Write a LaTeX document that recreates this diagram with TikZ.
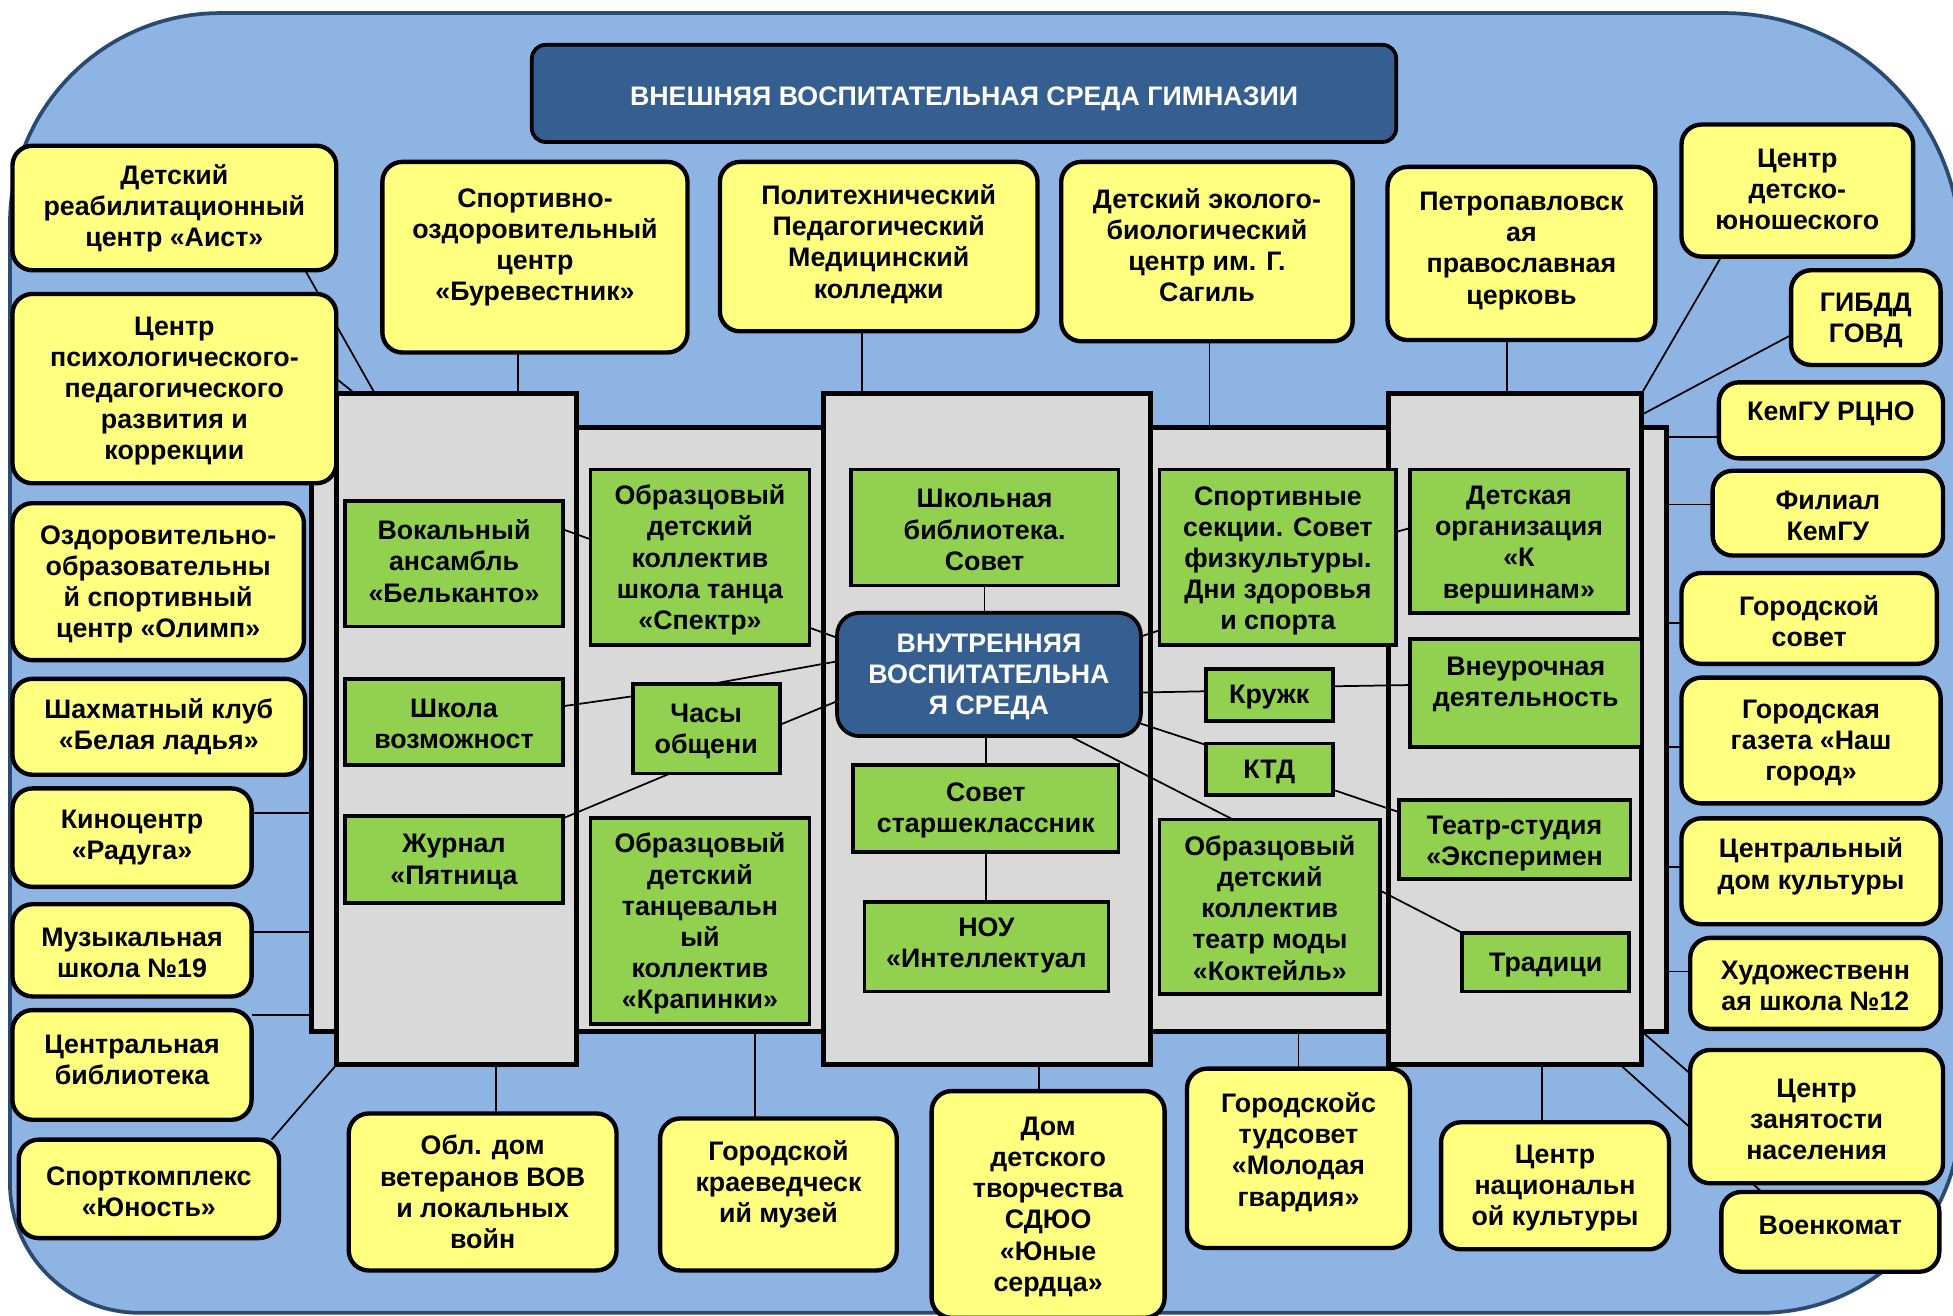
\documentclass[tikz,border=0pt]{standalone}
\usepackage{fontspec}
\setmainfont{Liberation Sans}
\usetikzlibrary{fit}
\definecolor{bgblue}{HTML}{8DB4E2}
\definecolor{bgline}{HTML}{2B4A72}
\definecolor{navy}{HTML}{365F91}
\definecolor{lemon}{HTML}{FFFF80}
\definecolor{leaf}{HTML}{92D050}
\definecolor{panelgray}{HTML}{D9D9D9}
\pgfdeclarelayer{bg}
\pgfdeclarelayer{links}
\pgfsetlayers{bg,links,main}
\begin{document}
\begin{tikzpicture}[x=1pt, y=-1pt,
    box/.style={draw=black, inner sep=0pt, outer sep=0pt},
    txt/.style={align=center, inner sep=0pt, yshift=-2pt, font=\bfseries\fontsize{21.5}{25}\selectfont},
    txtw/.style={txt, text=white},
    yel/.style={box, fill=lemon, line width=3.5pt, rounded corners=16pt},
    grn/.style={box, fill=leaf, line width=3pt},
    head/.style={box, fill=navy, line width=3pt, rounded corners=11pt},
    panel/.style={draw=black, fill=panelgray, line width=4pt, inner sep=0pt, outer sep=0pt},
    ln/.style={draw=black, line width=1.4pt}]
    \useasboundingbox (0,0) rectangle (1568,1056);
    \clip (0,0) rectangle (1568,1056);
    \begin{pgfonlayer}{bg}
    \draw[bgline, fill=bgblue, line width=3pt] (8,179.5) arc[start angle=180, end angle=270, radius=169]
        -- (1384,10.5) arc[start angle=270, end angle=360, radius=190]
        -- (1574,894) arc[start angle=0, end angle=90, radius=160]
        -- (112,1054) arc[start angle=90, end angle=180, radius=104] -- cycle;
    \node[panel, fit={(250,343) (1338,828)}] (back) {};
    \node[panel, fit={(270,316) (463,855)}] (colA) {};
    \node[panel, fit={(661,316) (924,855)}] (colC) {};
    \node[panel, fit={(1115,316) (1318,855)}] (colE) {};
    \end{pgfonlayer}

    \node[head, fit={(427,36) (1121,114)}, label={[txtw, yshift=-2pt]center:{ВНЕШНЯЯ ВОСПИТАТЕЛЬНАЯ СРЕДА ГИМНАЗИИ}}] (outerenv) {};

    \node[yel, fit={(10,117) (270,217)}, label={[txt, yshift=2pt]center:{Детский\\реабилитационный\\центр «Аист»}}] (aist) {};
    \node[yel, fit={(10,236) (270,388)}, label={[txt]center:{Центр\\психологического-\\педагогического\\развития и\\коррекции}}] (psych) {};
    \node[yel, fit={(10,404) (244,530)}, label={[txt]center:{Оздоровительно-\\образовательны\\й спортивный\\центр «Олимп»}}] (olimp) {};
    \node[yel, fit={(10,545) (245,622)}, label={[txt, yshift=2pt]center:{Шахматный клуб\\«Белая ладья»}}] (chess) {};
    \node[yel, fit={(10,633) (202,712)}, label={[txt, yshift=2pt]center:{Киноцентр\\«Радуга»}}] (kino) {};
    \node[yel, fit={(10,726) (202,800)}, label={[txt]center:{Музыкальная\\школа №19}}] (music) {};
    \node[yel, fit={(10,811) (202,899)}, label={[txt, yshift=6pt]center:{Центральная\\библиотека}}] (citylib) {};
    \node[yel, fit={(15,915) (224,994)}, label={[txt]center:{Спорткомплекс\\«Юность»}}] (sport) {};
    \node[yel, fit={(307,130) (552,283)}, label={[txt, yshift=10pt]center:{Спортивно-\\оздоровительный\\центр\\«Буревестник»}}] (burev) {};
    \node[yel, fit={(578,130) (833,266)}, label={[txt, yshift=4pt]center:{Политехнический\\Педагогический\\Медицинский\\колледжи}}] (college) {};
    \node[yel, fit={(852,130) (1086,274)}, label={[txt, yshift=7pt]center:{Детский эколого-\\биологический\\центр им. Г.\\Сагиль}}] (eco) {};
    \node[yel, fit={(1114,134) (1329,273)}, label={[txt, yshift=4pt]center:{Петропавловск\\ая\\православная\\церковь}}] (church) {};
    \node[yel, fit={(1350,100) (1536,206)}, label={[txt, yshift=3pt]center:{Центр\\детско-\\юношеского}}] (youth) {};
    \node[yel, fit={(1438,217) (1558,293)}, label={[txt]center:{ГИБДД\\ГОВД}}] (gibdd) {};
    \node[yel, fit={(1380,307) (1560,368)}, label={[txt, yshift=7pt]center:{КемГУ РЦНО}}] (rcno) {};
    \node[yel, fit={(1375,378) (1560,446)}, label={[txt]center:{Филиал\\КемГУ}}] (kemgu) {};
    \node[yel, fit={(1350,460) (1555,533)}, label={[txt]center:{Городской\\совет}}] (council) {};
    \node[yel, fit={(1350,544) (1558,645)}, label={[txt]center:{Городская\\газета «Наш\\город»}}] (paper) {};
    \node[yel, fit={(1350,657) (1558,742)}, label={[txt, yshift=6pt]center:{Центральный\\дом культуры}}] (culture) {};
    \node[yel, fit={(1357,753) (1558,826)}, label={[txt]center:{Художественн\\ая школа №12}}] (art) {};
    \node[yel, fit={(1357,843) (1560,950)}, label={[txt]center:{Центр\\занятости\\населения}}] (jobs) {};
    \node[yel, fit={(1382,957) (1557,1021)}, label={[txt, yshift=7pt]center:{Военкомат}}] (army) {};
    \node[yel, fit={(280,894) (495,1020)}, label={[txt, yshift=2pt]center:{Обл. дом\\ветеранов ВОВ\\и локальных\\войн}}] (veter) {};
    \node[yel, fit={(530,898) (720,1020)}, label={[txt, yshift=10pt]center:{Городской\\краеведческ\\ий музей}}] (museum) {};
    \node[yel, fit={(748,876) (935,1058)}, label={[txt]center:{Дом\\детского\\творчества\\СДЮО\\«Юные\\сердца»}}] (ddt) {};
    \node[yel, fit={(953,858) (1132,1002)}, label={[txt, yshift=7pt]center:{Городскойс\\тудсовет\\«Молодая\\гвардия»}}] (stud) {};
    \node[yel, fit={(1157,901) (1340,1003)}, label={[txt]center:{Центр\\национальн\\ой культуры}}] (nation) {};

    \node[grn, fit={(277,402) (452,503)}, label={[txt, yshift=4pt]center:{Вокальный\\ансамбль\\«Бельканто»}}] (belcanto) {};
    \node[grn, fit={(277,545) (452,614)}, label={[txt]center:{Школа\\возможност}}] (chances) {};
    \node[grn, fit={(277,655) (452,725)}, label={[txt]center:{Журнал\\«Пятница}}] (journal) {};
    \node[grn, fit={(474,377) (650,518)}, label={[txt]center:{Образцовый\\детский\\коллектив\\школа танца\\«Спектр»}}] (spectr) {};
    \node[grn, fit={(508,549) (626,621)}, label={[txt]center:{Часы\\общени}}] (talks) {};
    \node[grn, fit={(474,657) (650,822)}, label={[txt]center:{Образцовый\\детский\\танцевальн\\ый\\коллектив\\«Крапинки»}}] (krap) {};
    \node[grn, fit={(683,377) (898,470)}, label={[txt]center:{Школьная\\библиотека.\\Совет}}] (schoollib) {};
    \node[head, rounded corners=18pt, fit={(672,492) (916,591)}, label={[txtw]center:{ВНУТРЕННЯЯ\\ВОСПИТАТЕЛЬНА\\Я СРЕДА}}] (inner) {};
    \node[grn, fit={(685,614) (898,684)}, label={[txt]center:{Совет\\старшеклассник}}] (senior) {};
    \node[grn, fit={(694,724) (890,796)}, label={[txt, yshift=3pt]center:{НОУ\\«Интеллектуал}}] (nou) {};
    \node[grn, fit={(931,377) (1121,518)}, label={[txt, yshift=-1pt]center:{Спортивные\\секции. Совет\\физкультуры.\\Дни здоровья\\и спорта}}] (sports) {};
    \node[grn, fit={(968,537) (1070,579)}, label={[txt]center:{Кружк}}] (clubs) {};
    \node[grn, fit={(968,597) (1070,638)}, label={[txt]center:{КТД}}] (ktd) {};
    \node[grn, fit={(931,658) (1108,798)}, label={[txt, yshift=1pt]center:{Образцовый\\детский\\коллектив\\театр моды\\«Коктейль»}}] (cocktail) {};
    \node[grn, fit={(1132,377) (1307,492)}, label={[txt, yshift=-1pt]center:{Детская\\организация\\«К\\вершинам»}}] (summit) {};
    \node[grn, fit={(1132,513) (1318,600)}, label={[txt, yshift=9pt]center:{Внеурочная\\деятельность}}] (extra) {};
    \node[grn, fit={(1123,642) (1309,706)}, label={[txt, yshift=-1pt]center:{Театр-студия\\«Эксперимен}}] (theatre) {};
    \node[grn, fit={(1174,749) (1308,796)}, label={[txt]center:{Традици}}] (trad) {};

    \begin{pgfonlayer}{links}
    \draw[ln] ([xshift=-13.5pt]burev.south) -- ([xshift=-13.5pt]burev.south |- colA.north);
    \draw[ln] ([xshift=-13.5pt]college.south) -- ([xshift=-13.5pt]college.south |- colC.north);
    \draw[ln] ([xshift=2pt]eco.south) -- ([xshift=2pt]eco.south |- back.north);
    \draw[ln] ([xshift=-11.5pt]church.south) -- ([xshift=-11.5pt]church.south |- colE.north);
    \draw[ln] ([xshift=-61pt]youth.south) -- (colE.north east);
    \draw[ln] ([yshift=-14pt]gibdd.west) -- ([yshift=-17pt]colE.north east);
    \draw[ln] ([yshift=-13.5pt]rcno.west) -- ([yshift=-13.5pt]rcno.west -| back.east);
    \draw[ln] ([yshift=7pt]kemgu.west) -- ([yshift=7pt]kemgu.west -| back.east);
    \draw[ln] ([yshift=-3.5pt]council.west) -- ([yshift=-3.5pt]council.west -| back.east);
    \draw[ln] ([yshift=-5.5pt]paper.west) -- ([yshift=-5.5pt]paper.west -| back.east);
    \draw[ln] ([yshift=3.5pt]culture.west) -- ([yshift=3.5pt]culture.west -| back.east);
    \draw[ln] ([yshift=9.5pt]art.west) -- ([yshift=9.5pt]art.west -| back.east);
    \draw[ln] (colE.east |- back.south) -- ([yshift=-19pt]jobs.north west);
    \draw[ln] ([xshift=-17pt]colE.south east) -- ([xshift=-55pt]army.north);
    \draw[ln] ([xshift=-10.5pt]nation.north) -- ([xshift=-10.5pt]nation.north |- colE.south);
    \draw[ln] (stud.north) -- (stud.north |- back.south);
    \draw[ln] ([xshift=-7.5pt]ddt.north) -- ([xshift=-7.5pt]ddt.north |- colC.south);
    \draw[ln] ([xshift=-19pt]museum.north) -- ([xshift=-19pt]museum.north |- back.south);
    \draw[ln] ([xshift=10.5pt]veter.north) -- ([xshift=10.5pt]veter.north |- colA.south);
    \draw[ln] ([xshift=-6pt]sport.north east) -- (colA.south west);
    \draw[ln] ([yshift=-4pt]citylib.north east) -- ([yshift=-4pt]citylib.north east -| back.west);
    \draw[ln] ([yshift=15pt]music.east) -- ([yshift=15pt]music.east -| back.west);
    \draw[ln] ([yshift=19.5pt]kino.east) -- ([yshift=19.5pt]kino.east -| back.west);
    \draw[ln] ([xshift=-25pt]aist.south east) -- ([xshift=31pt]colA.north west);
    \draw[ln] ([yshift=8pt]psych.east) -- ([xshift=15pt]colA.north west);

    \draw[ln] ([yshift=-23pt]belcanto.north east) -- ([yshift=-56pt]spectr.north west);
    \draw[ln] ([yshift=12.5pt]chances.east) -- ([yshift=-10pt]talks.north west);
    \draw[ln] ([yshift=-2pt]journal.north east) -- ([xshift=30pt]talks.south west);
    \draw[ln] ([xshift=5pt]talks.north) -- ([yshift=10.5pt]inner.west);
    \draw[ln] ([yshift=3pt]talks.east) -- ([yshift=-21.5pt]inner.west);
    \draw[ln] ([yshift=14pt]spectr.south east) -- ([yshift=29.5pt]inner.west);
    \draw[ln] (schoollib.south) -- (schoollib.south |- inner.north);
    \draw[ln] (senior.north |- inner.south) -- (senior.north);
    \draw[ln] (senior.south) -- (senior.south |- nou.north);
    \draw[ln] ([yshift=30.5pt]inner.east) -- ([yshift=12pt]sports.south west);
    \draw[ln] ([yshift=-14.5pt]inner.east) -- ([yshift=3pt]clubs.west);
    \draw[ln] ([yshift=7pt]clubs.east) -- ([yshift=6.5pt]extra.west);
    \draw[ln] ([yshift=10pt]inner.south east) -- ([yshift=-1pt]ktd.north west);
    \draw[ln] ([xshift=65pt]inner.south) -- ([xshift=-29.5pt]cocktail.north);
    \draw[ln] ([yshift=4pt]ktd.south east) -- ([yshift=-10pt]theatre.north west);
    \draw[ln] ([yshift=13pt]cocktail.east) -- (trad.north west);
    \draw[ln] ([yshift=-50pt]sports.north east) -- ([yshift=-47pt]summit.north west);
    \end{pgfonlayer}
\end{tikzpicture}
\end{document}
